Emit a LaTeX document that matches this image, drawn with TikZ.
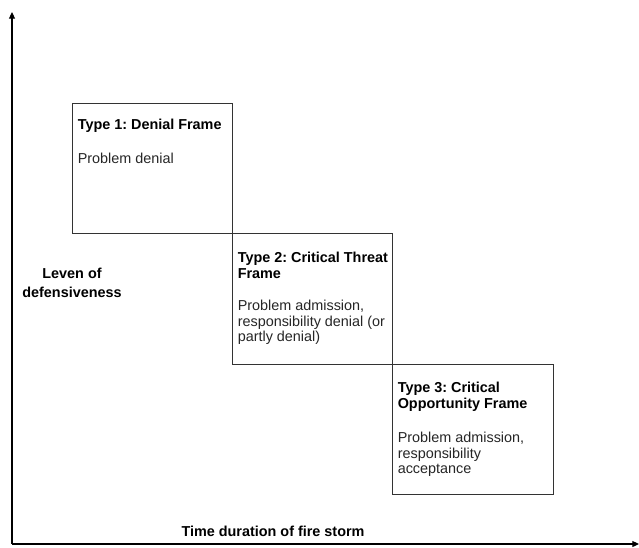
\documentclass[tikz,border=0pt]{standalone}
\usepackage{fontspec}
\setmainfont{Liberation Sans}
\frenchspacing
\usetikzlibrary{arrows.meta}
\begin{document}
\begin{tikzpicture}[x=0.75pt,y=-0.75pt,
  framebox/.style={draw=black!80,line width=0.75pt},
  axis/.style={draw=black,line width=0.8pt,-{Triangle[length=5pt,width=4.5pt]}},
  txt/.style={anchor=north west,inner sep=0pt,align=left,font=\frenchspacing\fontsize{10.8}{11.6}\selectfont,text=black!85},
  hdr/.style={txt,font=\frenchspacing\fontsize{10.8}{11.6}\selectfont\bfseries,text=black},
  lbl/.style={inner sep=0pt,align=center,font=\frenchspacing\fontsize{10.8}{14.2}\selectfont\bfseries}]
\useasboundingbox (0,0) rectangle (639,547);
\fill[white] (0,0) rectangle (639,547);
% axes
\coordinate (origin) at (12,544);
\coordinate (ytop) at (12,12);
\coordinate (xend) at (639,544);
\draw[axis] (origin) -- (ytop);
\draw[axis] (origin) -- (xend);
% boxes
\draw[framebox] (72,103) rectangle (232,233);
\draw[framebox] (232,233) rectangle (392,364);
\draw[framebox] (392,364) rectangle (553,494);
% texts
\node[hdr] (h1) at (77.5,119) {Type 1: Denial Frame};
\node[txt] (b1) at (77.5,153) {Problem denial};
\node[hdr] (h2) at (237.5,252) {Type 2: Critical Threat\\Frame};
\node[txt] (b2) at (237.5,300) {Problem admission,\\responsibility denial (or\\partly denial)};
\node[hdr] (h3) at (397.5,382) {Type 3: Critical\\Opportunity Frame};
\node[txt] (b3) at (397.5,432) {Problem admission,\\responsibility\\acceptance};
\node[lbl] (ylab) at (72,283) {Leven of\\defensiveness};
\node[lbl] (xlab) at (273,531) {Time duration of fire storm};
\end{tikzpicture}
\end{document}
